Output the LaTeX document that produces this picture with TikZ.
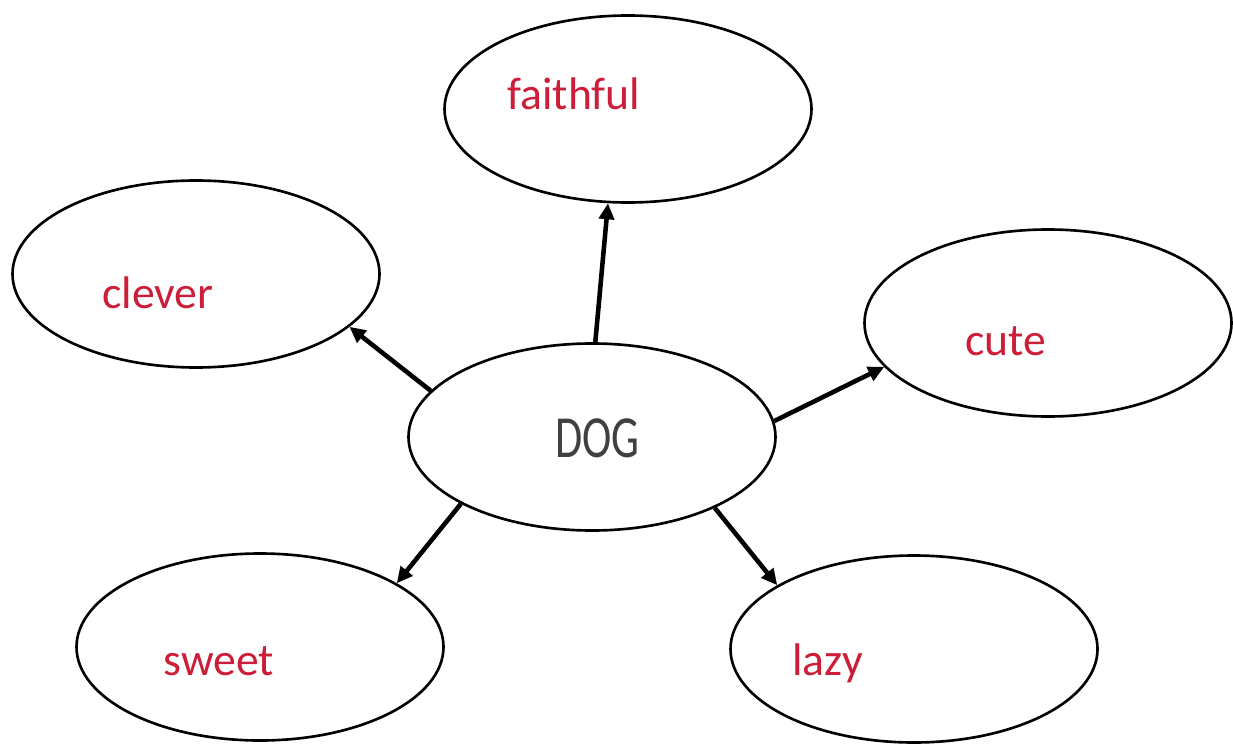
\documentclass[tikz,border=0pt]{standalone}
\usepackage{fontspec}
\setmainfont{Carlito}
\usetikzlibrary{shapes, shapes.geometric, arrows.meta}
\definecolor{wordred}{RGB}{204,30,56}
\definecolor{doggray}{RGB}{64,64,64}
\tikzset{
  bubble/.style={draw, ellipse, line width=1.5pt, minimum width=7.34cm, minimum height=3.74cm, inner sep=0pt},
  word/.style={anchor=base west, inner sep=0pt, text=wordred, font=\fontsize{26}{30}\selectfont},
  link/.style={line width=2.6pt, -{Triangle[length=0.32cm, width=0.3cm]}}
}

\begin{document}
\begin{tikzpicture}
    \useasboundingbox (0,0) rectangle (24.66,-14.9);
    % CENTRE
    \node[bubble] (dog) at (11.84,-8.74) {};
    \node[anchor=base west, inner sep=0pt, text=doggray] (dogtext) at (11.10,-9.14)
      {\scalebox{0.74}[1]{\fontsize{34}{40}\selectfont DOG}};
    % OUTER ELLIPSES
    \node[bubble] (faithful) at (12.56,-2.18) {};
    \node[bubble] (clever) at (3.92,-5.48) {};
    \node[bubble] (cute) at (20.96,-6.46) {};
    \node[bubble] (sweet) at (5.20,-12.94) {};
    \node[bubble] (lazy) at (18.28,-12.98) {};
    % words
    \node[word] (faithfultext) at (10.14,-2.20) {faithful};
    \node[word] (clevertext) at (2.04,-6.16) {clever};
    \node[word] (cutetext) at (19.30,-7.10) {cute};
    \node[word] (sweettext) at (3.26,-13.50) {sweet};
    \node[word] (lazytext) at (15.84,-13.50) {lazy};
    % arrows
    \draw[link] (dog.88) -- (faithful.258);
    \draw[link] (dog.164) -- (clever.341);
    \draw[link] (dog.5) -- (cute.195);
    \draw[link] (dog.207) -- (sweet.25);
    \draw[link] (dog.330) -- (lazy.155);
\end{tikzpicture}
\end{document}
